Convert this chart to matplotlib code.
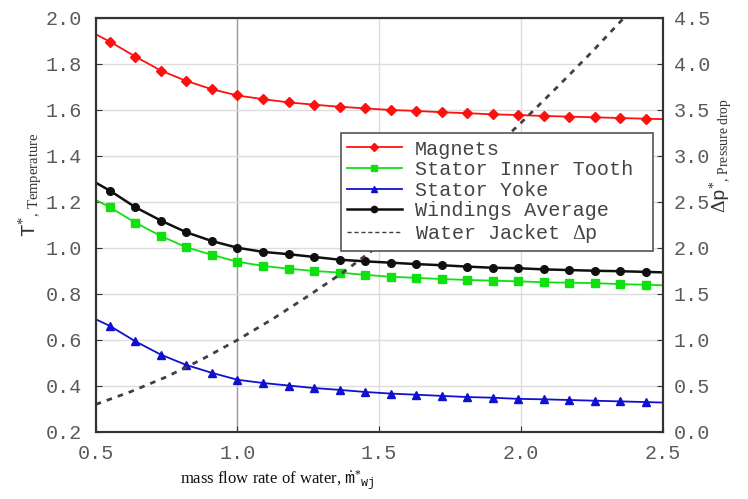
import matplotlib
matplotlib.use('Agg')
import matplotlib.pyplot as plt
from matplotlib.lines import Line2D

plt.rcParams['mathtext.fontset'] = 'custom'
plt.rcParams['mathtext.rm'] = 'Liberation Serif'
plt.rcParams['mathtext.tt'] = 'Liberation Mono'
plt.rcParams['mathtext.it'] = 'Liberation Serif:italic'

## data
flow = [0.50, 0.55, 0.64, 0.73, 0.82, 0.91, 1.00, 1.09, 1.18, 1.27, 1.36, 1.45,
        1.54, 1.63, 1.72, 1.81, 1.90, 1.99, 2.08, 2.17, 2.26, 2.35, 2.44, 2.50]
magnets = [1.929, 1.897, 1.832, 1.771, 1.726, 1.690, 1.663, 1.647, 1.633, 1.623, 1.614, 1.607,
           1.600, 1.596, 1.590, 1.586, 1.581, 1.578, 1.574, 1.571, 1.568, 1.565, 1.562, 1.560]
inner_tooth = [1.209, 1.177, 1.110, 1.052, 1.003, 0.970, 0.940, 0.922, 0.910, 0.900, 0.893, 0.883,
               0.875, 0.870, 0.865, 0.861, 0.858, 0.855, 0.851, 0.849, 0.847, 0.843, 0.840, 0.838]
yoke = [0.690, 0.661, 0.594, 0.536, 0.491, 0.457, 0.427, 0.413, 0.402, 0.391, 0.383, 0.374,
        0.367, 0.362, 0.357, 0.352, 0.349, 0.344, 0.342, 0.339, 0.336, 0.333, 0.330, 0.328]
windings = [1.284, 1.249, 1.177, 1.119, 1.068, 1.030, 1.001, 0.983, 0.973, 0.961, 0.949, 0.942,
            0.936, 0.930, 0.925, 0.919, 0.914, 0.912, 0.907, 0.904, 0.901, 0.899, 0.896, 0.894]

flow_dp = [0.500, 0.625, 0.750, 0.875, 1.000, 1.125, 1.250, 1.375, 1.500,
           1.625, 1.750, 1.875, 2.000, 2.125, 2.250, 2.375, 2.500]
pressure_drop = [0.30, 0.44, 0.60, 0.79, 1.00, 1.23, 1.48, 1.74, 2.03,
                 2.34, 2.66, 3.00, 3.36, 3.74, 4.13, 4.54, 4.97]

labels = ['Magnets', 'Stator Inner Tooth', 'Stator Yoke', 'Windings Average', r'Water Jacket $\Delta$p']
x_ticks = [0.5, 1.0, 1.5, 2.0, 2.5]
y_ticks = [0.2, 0.4, 0.6, 0.8, 1.0, 1.2, 1.4, 1.6, 1.8, 2.0]
y2_ticks = [0.0, 0.5, 1.0, 1.5, 2.0, 2.5, 3.0, 3.5, 4.0, 4.5]

mono = 'Liberation Mono'
tick_col = '#5a5a5a'
spine_col = '#333333'

fig = plt.figure(figsize=(7.48, 4.99), dpi=100)
ax = fig.add_axes([0.128, 0.1343, 0.758, 0.8297])
ax2 = ax.twinx()

mk = slice(1, -1)
ax.plot(flow, magnets, color='#ff1010', lw=1.3, marker='D', ms=5, markevery=mk, zorder=3)
ax.plot(flow, inner_tooth, color='#10e010', lw=1.3, marker='s', ms=6, markevery=mk, zorder=3)
ax.plot(flow, yoke, color='#1010d0', lw=1.3, marker='^', ms=6, markevery=mk, zorder=3)
ax.plot(flow, windings, color='#101010', lw=1.8, marker='o', ms=5.5, markevery=mk, zorder=3)
ax2.plot(flow_dp, pressure_drop, color='#404040', lw=2.0, ls=(0, (2, 2.2)))

ax.set_xlim(0.5, 2.5)
ax.set_ylim(0.2, 2.0)
ax2.set_ylim(0.0, 4.5)
ax.set_xticks(x_ticks)
ax.set_yticks(y_ticks)
ax2.set_yticks(y2_ticks)
ax.set_xticklabels(['%.1f' % v for v in x_ticks])
ax.set_yticklabels(['%.1f' % v for v in y_ticks])
ax2.set_yticklabels(['%.1f' % v for v in y2_ticks])

ax.grid(True, color='#dddddd', lw=1.0)
ax.get_xgridlines()[1].set_color('#999999')

ax.tick_params(axis='both', direction='in', length=4, color=spine_col, labelcolor=tick_col, labelsize=14.5)
ax.tick_params(axis='x', pad=9)
ax.tick_params(axis='y', pad=10)
ax2.tick_params(axis='y', direction='in', length=4, color=spine_col, labelcolor=tick_col, labelsize=14.5, pad=8)
for lab in ax.get_xticklabels() + ax.get_yticklabels() + ax2.get_yticklabels():
    lab.set_fontfamily(mono)
for a in (ax, ax2):
    for s in a.spines.values():
        s.set_color(spine_col)
        s.set_linewidth(1.5)

handles = [
    Line2D([], [], color='#ff1010', lw=1.3, marker='D', ms=4),
    Line2D([], [], color='#10e010', lw=1.3, marker='s', ms=5),
    Line2D([], [], color='#1010d0', lw=1.3, marker='^', ms=5),
    Line2D([], [], color='#101010', lw=1.8, marker='o', ms=4.5),
    Line2D([], [], color='#404040', lw=1.0, ls=(0, (3, 2))),
]
leg = ax2.legend(handles, labels, loc='upper left', bbox_to_anchor=(0.432, 0.44, 0.55, 0.282),
                 mode='expand', prop={'family': mono, 'size': 14.5}, labelspacing=0.08,
                 handlelength=2.7, handletextpad=0.65, borderpad=0.32, borderaxespad=0,
                 fancybox=False, framealpha=1, edgecolor='#555555')
leg.get_frame().set_linewidth(1.2)
for t in leg.get_texts():
    t.set_color('#444444')

fig.text(0.24, 0.028, r'mass flow rate of water, $\dot{\mathtt{m}}^{*}{}_{\mathtt{wj}}$',
         family='Liberation Serif', size=12, color='#111111', ha='left', va='baseline')
fig.text(0.04, 0.525, r'$\mathtt{T}^{*}{}_{,\,\mathrm{Temperature}}$', rotation=90,
         family='Liberation Serif', size=15, color='#333333', ha='center', va='bottom')
fig.text(0.965, 0.573, r'$\Delta\mathtt{p}^{*}{}_{,\,\mathrm{Pressure\ drop}}$', rotation=90,
         family='Liberation Serif', size=14, color='#333333', ha='center', va='bottom')

fig.savefig('out.png', dpi=100)
